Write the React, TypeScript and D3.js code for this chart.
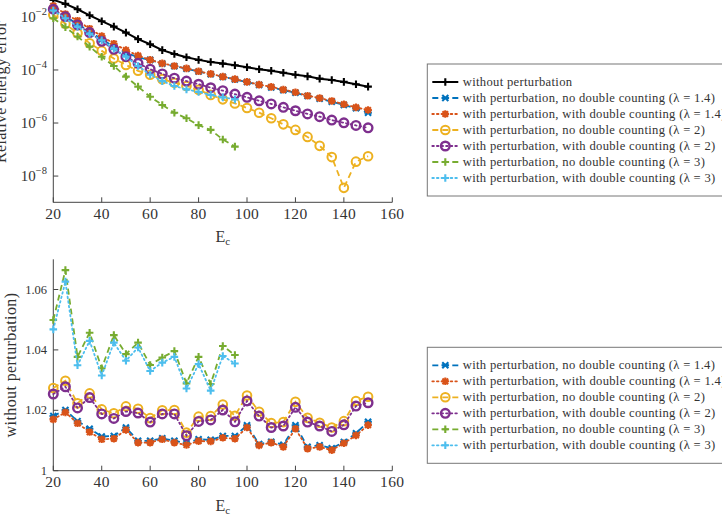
import React from "react";
import * as d3 from "d3";

const EC_FULL = [20, 25, 30, 35, 40, 45, 50, 55, 60, 65, 70, 75, 80, 85, 90, 95, 100, 105, 110, 115, 120, 125, 130, 135, 140, 145, 150];
const EC_LOW = [20, 25, 30, 35, 40, 45, 50, 55, 60, 65, 70, 75, 80, 85, 90, 95];

// Top chart: relative energy error
const errNoPert = [4.4e-2, 3.1e-2, 1.95e-2, 1.15e-2, 6.9e-3, 4.3e-3, 2.57e-3, 1.45e-3, 9.3e-4, 5.6e-4, 4.0e-4, 3.0e-4, 2.4e-4, 2.0e-4, 1.74e-4, 1.51e-4, 1.26e-4, 1.07e-4, 9.3e-5, 7.9e-5, 6.6e-5, 5.75e-5, 4.7e-5, 4.2e-5, 3.55e-5, 2.9e-5, 2.35e-5];
const errNoDc14 = [1.95e-2, 1.02e-2, 5.5e-3, 2.8e-3, 1.45e-3, 7.6e-4, 4.5e-4, 3.0e-4, 2.4e-4, 1.74e-4, 1.38e-4, 1.12e-4, 8.7e-5, 6.9e-5, 5.5e-5, 4.4e-5, 3.5e-5, 2.75e-5, 2.2e-5, 1.74e-5, 1.38e-5, 1.05e-5, 8.3e-6, 6.3e-6, 4.8e-6, 3.6e-6, 2.45e-6];
const errDc14 = [2.63e-2, 1.29e-2, 7.2e-3, 3.6e-3, 1.9e-3, 9.8e-4, 5.6e-4, 3.5e-4, 2.4e-4, 1.78e-4, 1.41e-4, 1.15e-4, 8.9e-5, 7.1e-5, 5.6e-5, 4.5e-5, 3.55e-5, 2.8e-5, 2.3e-5, 1.82e-5, 1.45e-5, 1.07e-5, 8.7e-6, 6.8e-6, 5.1e-6, 3.9e-6, 3.1e-6];
const errNoDc2 = [1.2e-2, 5.5e-3, 2.4e-3, 1.02e-3, 5.25e-4, 2.7e-4, 1.55e-4, 9.3e-5, 6.6e-5, 4.5e-5, 3.3e-5, 2.5e-5, 1.78e-5, 1.15e-5, 7.8e-6, 5.5e-6, 3.7e-6, 2.45e-6, 1.51e-6, 8.9e-7, 5.5e-7, 3.0e-7, 1.38e-7, 5.2e-8, 3.6e-9, 3.5e-8, 5.6e-8];
const errDc2 = [1.95e-2, 1.02e-2, 5.0e-3, 2.57e-3, 1.2e-3, 6.0e-4, 3.16e-4, 1.78e-4, 1.07e-4, 7.1e-5, 4.9e-5, 3.8e-5, 2.9e-5, 2.14e-5, 1.66e-5, 1.23e-5, 9.3e-6, 6.9e-6, 5.25e-6, 3.9e-6, 2.9e-6, 2.2e-6, 1.74e-6, 1.29e-6, 1.02e-6, 8.1e-7, 6.6e-7];
const errNoDc3 = [8.9e-3, 4.1e-3, 1.82e-3, 7.6e-4, 3.16e-4, 1.41e-4, 5.6e-5, 2.35e-5, 9.8e-6, 4.8e-6, 2.45e-6, 1.51e-6, 8.3e-7, 5.5e-7, 2.4e-7, 1.29e-7];
const errDc3 = [1.74e-2, 8.9e-3, 4.3e-3, 2.3e-3, 1.32e-3, 6.3e-4, 3.16e-4, 1.41e-4, 6.6e-5, 3.8e-5, 2.5e-5, 1.86e-5, 1.48e-5, 1.15e-5, 9.3e-6, 7.8e-6];

// Bottom chart: ratio
const ratioNoDc14 = [1.0181, 1.0201, 1.0164, 1.0139, 1.0113, 1.0115, 1.0143, 1.0099, 1.0099, 1.0107, 1.0099, 1.0091, 1.0104, 1.0102, 1.0115, 1.0115, 1.015, 1.0088, 1.0096, 1.0086, 1.015, 1.0079, 1.0084, 1.0074, 1.0095, 1.0124, 1.0162];
const ratioDc14 = [1.017, 1.0193, 1.0157, 1.0128, 1.0104, 1.0106, 1.0135, 1.0093, 1.0093, 1.0104, 1.0093, 1.0085, 1.0098, 1.0097, 1.0109, 1.0106, 1.0143, 1.0084, 1.0093, 1.0079, 1.0139, 1.0073, 1.0079, 1.0068, 1.0091, 1.0117, 1.0151];
const ratioNoDc2 = [1.0274, 1.0298, 1.0223, 1.0256, 1.0203, 1.019, 1.0213, 1.0205, 1.0174, 1.02, 1.0201, 1.0126, 1.0179, 1.0181, 1.0219, 1.0182, 1.0249, 1.0195, 1.0158, 1.0161, 1.0228, 1.0175, 1.0159, 1.0143, 1.0164, 1.0231, 1.0245];
const ratioDc2 = [1.0254, 1.0278, 1.0208, 1.0242, 1.0188, 1.0173, 1.0196, 1.0191, 1.0161, 1.0188, 1.0188, 1.0116, 1.0163, 1.0168, 1.0201, 1.0162, 1.0231, 1.0181, 1.0143, 1.0148, 1.021, 1.0161, 1.0148, 1.013, 1.0152, 1.0214, 1.0225];
const ratioNoDc3 = [1.0499, 1.0664, 1.0377, 1.0457, 1.0339, 1.0449, 1.0386, 1.0424, 1.035, 1.0375, 1.0396, 1.0289, 1.0377, 1.0287, 1.0413, 1.0383];
const ratioDc3 = [1.0468, 1.0626, 1.0349, 1.043, 1.0315, 1.0424, 1.0364, 1.0408, 1.033, 1.0358, 1.0377, 1.0272, 1.0353, 1.0265, 1.038, 1.0355];

const LABELS = [
  "without perturbation",
  "with perturbation, no double counting (\u03bb = 1.4)",
  "with perturbation, with double counting (\u03bb = 1.4)",
  "with perturbation, no double counting (\u03bb = 2)",
  "with perturbation, with double counting (\u03bb = 2)",
  "with perturbation, no double counting (\u03bb = 3)",
  "with perturbation, with double counting (\u03bb = 3)",
];
const X_TICKS = [20, 40, 60, 80, 100, 120, 140, 160];
const TOP_Y_TICKS = [-8, -6, -4, -2];
const BOT_Y_TICKS = [1, 1.02, 1.04, 1.06];

type Style = { color: string; dash: string | null; marker: string; width: number };
const STYLES: Style[] = [
  { color: "#000000", dash: null, marker: "plus", width: 2 },
  { color: "#0072BD", dash: "6,4", marker: "x", width: 1.8 },
  { color: "#D95319", dash: "1.6,3", marker: "ast", width: 1.8 },
  { color: "#EDB120", dash: "6,4", marker: "circle", width: 1.8 },
  { color: "#7E2F8E", dash: "1.6,3", marker: "circle", width: 1.8 },
  { color: "#77AC30", dash: "6,4", marker: "plus", width: 1.8 },
  { color: "#4DBEEE", dash: "1.6,3", marker: "plus", width: 1.8 },
];

const FONT = "'Liberation Serif', 'DejaVu Serif', serif";

function Marker({ kind, color, x, y }: { kind: string; color: string; x: number; y: number }) {
  const r = 3.8;
  if (kind === "circle") {
    return <circle cx={x} cy={y} r={4.3} fill="none" stroke={color} strokeWidth={color === "#7E2F8E" ? 2.4 : 2} />;
  }
  let d = "";
  if (kind === "plus") d = `M${-r},0H${r}M0,${-r}V${r}`;
  else if (kind === "x") d = `M${-r * 0.8},${-r * 0.8}L${r * 0.8},${r * 0.8}M${-r * 0.8},${r * 0.8}L${r * 0.8},${-r * 0.8}M${-r},0H${r}`;
  else d = `M${-r},0H${r}M0,${-r}V${r}M${-r * 0.75},${-r * 0.75}L${r * 0.75},${r * 0.75}M${-r * 0.75},${r * 0.75}L${r * 0.75},${-r * 0.75}`;
  return <path d={d} transform={`translate(${x},${y})`} fill="none" stroke={color} strokeWidth={2.1} />;
}

function Series({ xs, ys, style, sx, sy }: any) {
  const pts: [number, number][] = xs.map((x: number, i: number) => [sx(x), sy(ys[i])]);
  const line = d3.line()(pts) || "";
  return (
    <g>
      <path d={line} fill="none" stroke={style.color} strokeWidth={style.width} strokeDasharray={style.dash || undefined} strokeLinecap={style.dash && style.dash.startsWith("1.6") ? "round" : "butt"} />
      {pts.map((p, i) => (
        <Marker key={i} kind={style.marker} color={style.color} x={p[0]} y={p[1]} />
      ))}
    </g>
  );
}

function Legend({ x, y, rows, idxs }: { x: number; y: number; rows: number; idxs: number[] }) {
  const rowH = 16;
  const h = rows * rowH + 20;
  return (
    <g>
      <rect x={x} y={y} width={310} height={h} fill="#fff" stroke="#777" strokeWidth={1} />
      {idxs.map((k, i) => {
        const cy = y + 10 + rowH * i + 8;
        const st = STYLES[k];
        return (
          <g key={k}>
            <line x1={x + 5} x2={x + 31} y1={cy} y2={cy} stroke={st.color} strokeWidth={st.width} strokeDasharray={st.dash || undefined} strokeLinecap={st.dash && st.dash.startsWith("1.6") ? "round" : "butt"} />
            <Marker kind={st.marker} color={st.color} x={x + 18} y={cy} />
            <text x={x + 35.5} y={cy + 4} fontSize={12.6} letterSpacing={0.32} fill="#333" fontFamily={FONT}>{LABELS[k]}</text>
          </g>
        );
      })}
    </g>
  );
}

export default function App() {
  const W = 722, H = 526;
  const sx = d3.scaleLinear().domain([20, 160]).range([53.3, 392.3]);
  const syTop = d3.scaleLog().domain([1e-9, 1e-1]).range([202.6, -9.6]);
  const syBot = d3.scaleLinear().domain([1, 1.07]).range([470.7, 259.3]);
  const axisColor = "#444";

  const topSeries = [
    { xs: EC_FULL, ys: errNoPert, k: 0 },
    { xs: EC_FULL, ys: errNoDc14, k: 1 },
    { xs: EC_FULL, ys: errDc14, k: 2 },
    { xs: EC_FULL, ys: errNoDc2, k: 3 },
    { xs: EC_FULL, ys: errDc2, k: 4 },
    { xs: EC_LOW, ys: errNoDc3, k: 5 },
    { xs: EC_LOW, ys: errDc3, k: 6 },
  ];
  const botSeries = [
    { xs: EC_FULL, ys: ratioNoDc14, k: 1 },
    { xs: EC_FULL, ys: ratioDc14, k: 2 },
    { xs: EC_FULL, ys: ratioNoDc2, k: 3 },
    { xs: EC_FULL, ys: ratioDc2, k: 4 },
    { xs: EC_LOW, ys: ratioNoDc3, k: 5 },
    { xs: EC_LOW, ys: ratioDc3, k: 6 },
  ];

  const xAxis = (y0: number, labelY: number, titleY: number) => (
    <g>
      <line x1={sx(20)} x2={sx(160)} y1={y0} y2={y0} stroke={axisColor} strokeWidth={1} />
      {X_TICKS.map((t) => (
        <g key={t}>
          <line x1={sx(t)} x2={sx(t)} y1={y0} y2={y0 - 5} stroke={axisColor} strokeWidth={1} />
          <text x={sx(t)} y={labelY} textAnchor="middle" fontSize={15.5} letterSpacing={0.4} fill="#333" fontFamily={FONT}>{t}</text>
        </g>
      ))}
      <text x={(sx(20) + sx(160)) / 2} y={titleY} textAnchor="middle" fontSize={16} fill="#333" fontFamily={FONT}>
        E<tspan fontSize={11} dy={3}>c</tspan>
      </text>
    </g>
  );

  return (
    <svg width={W} height={H} style={{ position: "absolute", left: 0, top: 0, background: "#fff" }}>
      {/* Top chart */}
      <g>
        <line x1={sx(20)} x2={sx(20)} y1={syTop(1e-9)} y2={-10} stroke={axisColor} strokeWidth={1} />
        {TOP_Y_TICKS.map((e) => {
          const y = syTop(Math.pow(10, e));
          return (
            <g key={e}>
              <line x1={sx(20)} x2={sx(20) + 5} y1={y} y2={y} stroke={axisColor} strokeWidth={1} />
              <text x={47} y={y + 5} textAnchor="end" fontSize={15} fill="#333" fontFamily={FONT}>
                10<tspan fontSize={10.5} dy={-7}>{"\u2212" + Math.abs(e)}</tspan>
              </text>
            </g>
          );
        })}
        {xAxis(202.3, 218.5, 242)}
        <text transform={`translate(5.5,92) rotate(-90)`} textAnchor="middle" fontSize={16} letterSpacing={0.3} fill="#333" fontFamily={FONT}>Relative energy error</text>
        {topSeries.map((s) => (
          <Series key={s.k} xs={s.xs} ys={s.ys} style={STYLES[s.k]} sx={sx} sy={syTop} />
        ))}
      </g>
      {/* Bottom chart */}
      <g>
        <line x1={sx(20)} x2={sx(20)} y1={syBot(1)} y2={syBot(1.07)} stroke={axisColor} strokeWidth={1} />
        {BOT_Y_TICKS.map((t) => {
          const y = syBot(t);
          return (
            <g key={t}>
              <line x1={sx(20)} x2={sx(20) + 5} y1={y} y2={y} stroke={axisColor} strokeWidth={1} />
              <text x={47} y={y + 4} textAnchor="end" fontSize={12.5} fill="#333" fontFamily={FONT}>{t === 1 ? "1" : t.toFixed(2)}</text>
            </g>
          );
        })}
        {xAxis(470.7, 487, 510.5)}
        <text transform={`translate(16,365) rotate(-90)`} textAnchor="middle" fontSize={16} letterSpacing={0.4} fill="#333" fontFamily={FONT}>without perturbation)</text>
        {botSeries.map((s) => (
          <Series key={s.k} xs={s.xs} ys={s.ys} style={STYLES[s.k]} sx={sx} sy={syBot} />
        ))}
      </g>
      <Legend x={427.3} y={64} rows={7} idxs={[0, 1, 2, 3, 4, 5, 6]} />
      <Legend x={427.3} y={347.3} rows={6} idxs={[1, 2, 3, 4, 5, 6]} />
    </svg>
  );
}
